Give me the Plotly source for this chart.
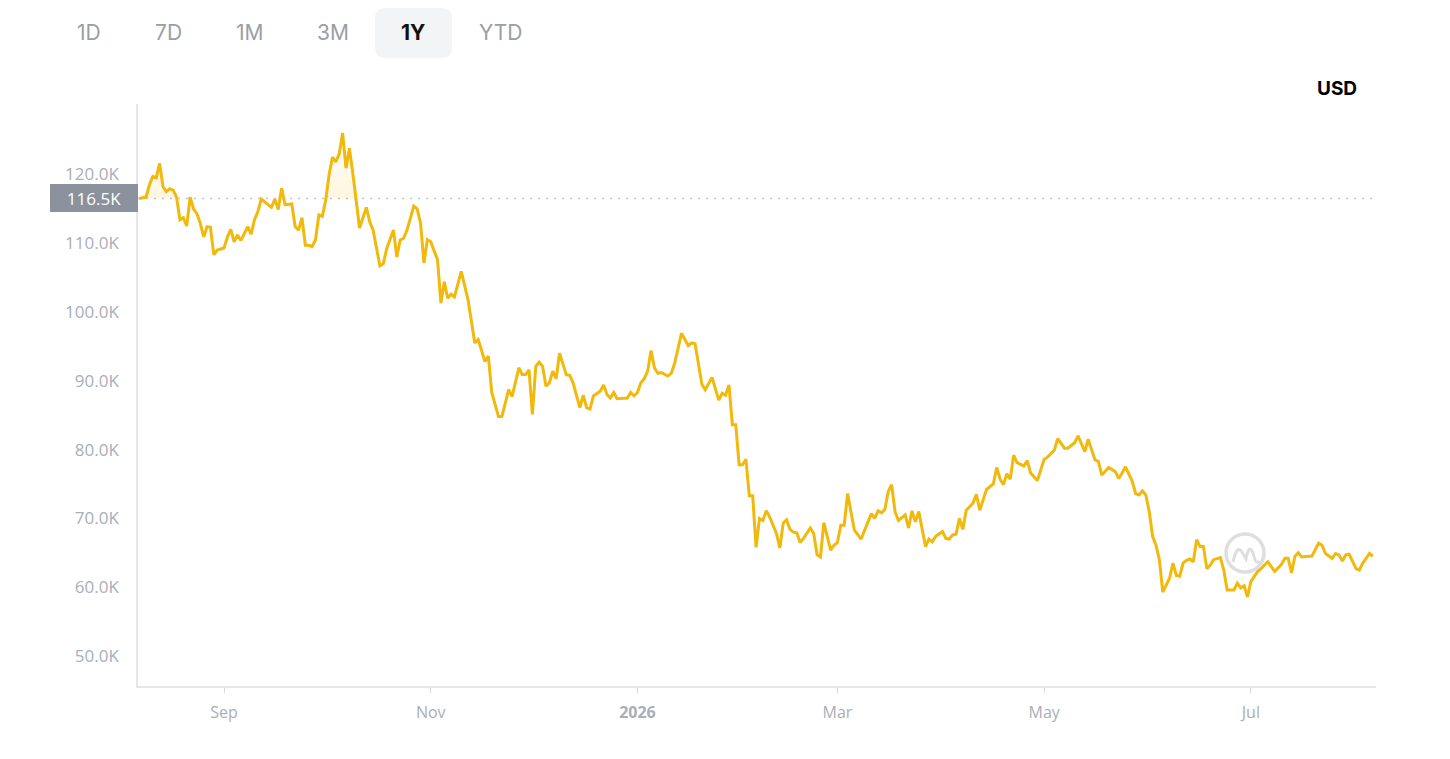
import plotly.graph_objects as go

# ---------------- data ----------------
dates = [
    "2025-08-07", "2025-08-09", "2025-08-10", "2025-08-11", "2025-08-12", "2025-08-13", "2025-08-14", "2025-08-15",
    "2025-08-16", "2025-08-17", "2025-08-18", "2025-08-19", "2025-08-20", "2025-08-21", "2025-08-22", "2025-08-23",
    "2025-08-24", "2025-08-25", "2025-08-26", "2025-08-27", "2025-08-28", "2025-08-29", "2025-08-30", "2025-09-01",
    "2025-09-02", "2025-09-03", "2025-09-04", "2025-09-05", "2025-09-06", "2025-09-08", "2025-09-09", "2025-09-10",
    "2025-09-11", "2025-09-12", "2025-09-14", "2025-09-15", "2025-09-16", "2025-09-17", "2025-09-18", "2025-09-19",
    "2025-09-21", "2025-09-22", "2025-09-23", "2025-09-24", "2025-09-25", "2025-09-26", "2025-09-27", "2025-09-28",
    "2025-09-29", "2025-09-30", "2025-10-01", "2025-10-02", "2025-10-03", "2025-10-04", "2025-10-05", "2025-10-06",
    "2025-10-07", "2025-10-08", "2025-10-09", "2025-10-11", "2025-10-13", "2025-10-14", "2025-10-15", "2025-10-17",
    "2025-10-18", "2025-10-19", "2025-10-21", "2025-10-22", "2025-10-23", "2025-10-24", "2025-10-25", "2025-10-27",
    "2025-10-28", "2025-10-29", "2025-10-30", "2025-10-31", "2025-11-01", "2025-11-03", "2025-11-04", "2025-11-05",
    "2025-11-06", "2025-11-07", "2025-11-08", "2025-11-10", "2025-11-12", "2025-11-14", "2025-11-15", "2025-11-17",
    "2025-11-18", "2025-11-19", "2025-11-21", "2025-11-22", "2025-11-24", "2025-11-25", "2025-11-27", "2025-11-28",
    "2025-11-29", "2025-11-30", "2025-12-01", "2025-12-02", "2025-12-03", "2025-12-04", "2025-12-05", "2025-12-06",
    "2025-12-07", "2025-12-08", "2025-12-09", "2025-12-11", "2025-12-12", "2025-12-13", "2025-12-15", "2025-12-16",
    "2025-12-17", "2025-12-18", "2025-12-19", "2025-12-21", "2025-12-22", "2025-12-23", "2025-12-24", "2025-12-25",
    "2025-12-26", "2025-12-29", "2025-12-30", "2025-12-31", "2026-01-01", "2026-01-02", "2026-01-03", "2026-01-04",
    "2026-01-05", "2026-01-06", "2026-01-07", "2026-01-08", "2026-01-10", "2026-01-11", "2026-01-12", "2026-01-14",
    "2026-01-16", "2026-01-17", "2026-01-18", "2026-01-20", "2026-01-21", "2026-01-23", "2026-01-25", "2026-01-26",
    "2026-01-27", "2026-01-28", "2026-01-29", "2026-01-30", "2026-01-31", "2026-02-01", "2026-02-02", "2026-02-03",
    "2026-02-04", "2026-02-05", "2026-02-06", "2026-02-07", "2026-02-08", "2026-02-09", "2026-02-11", "2026-02-12",
    "2026-02-13", "2026-02-14", "2026-02-15", "2026-02-16", "2026-02-17", "2026-02-18", "2026-02-19", "2026-02-21",
    "2026-02-22", "2026-02-23", "2026-02-24", "2026-02-25", "2026-02-26", "2026-02-27", "2026-02-28", "2026-03-01",
    "2026-03-02", "2026-03-03", "2026-03-04", "2026-03-05", "2026-03-06", "2026-03-08", "2026-03-10", "2026-03-11",
    "2026-03-12", "2026-03-13", "2026-03-14", "2026-03-15", "2026-03-16", "2026-03-17", "2026-03-18", "2026-03-19",
    "2026-03-21", "2026-03-22", "2026-03-23", "2026-03-24", "2026-03-25", "2026-03-26", "2026-03-27", "2026-03-28",
    "2026-03-29", "2026-03-30", "2026-04-01", "2026-04-02", "2026-04-03", "2026-04-04", "2026-04-05", "2026-04-06",
    "2026-04-07", "2026-04-08", "2026-04-10", "2026-04-11", "2026-04-12", "2026-04-14", "2026-04-16", "2026-04-17",
    "2026-04-18", "2026-04-19", "2026-04-20", "2026-04-21", "2026-04-22", "2026-04-23", "2026-04-25", "2026-04-26",
    "2026-04-27", "2026-04-29", "2026-05-01", "2026-05-02", "2026-05-04", "2026-05-05", "2026-05-07", "2026-05-08",
    "2026-05-10", "2026-05-11", "2026-05-13", "2026-05-14", "2026-05-16", "2026-05-17", "2026-05-18", "2026-05-19",
    "2026-05-20", "2026-05-22", "2026-05-23", "2026-05-24", "2026-05-25", "2026-05-27", "2026-05-28", "2026-05-29",
    "2026-05-30", "2026-05-31", "2026-06-01", "2026-06-02", "2026-06-03", "2026-06-04", "2026-06-05", "2026-06-07",
    "2026-06-08", "2026-06-09", "2026-06-10", "2026-06-11", "2026-06-12", "2026-06-13", "2026-06-14", "2026-06-15",
    "2026-06-16", "2026-06-17", "2026-06-18", "2026-06-19", "2026-06-20", "2026-06-22", "2026-06-23", "2026-06-24",
    "2026-06-26", "2026-06-27", "2026-06-28", "2026-06-29", "2026-06-30", "2026-07-01", "2026-07-03", "2026-07-04",
    "2026-07-05", "2026-07-06", "2026-07-08", "2026-07-10", "2026-07-11", "2026-07-12", "2026-07-13", "2026-07-14",
    "2026-07-15", "2026-07-16", "2026-07-18", "2026-07-19", "2026-07-21", "2026-07-22", "2026-07-23", "2026-07-25",
    "2026-07-26", "2026-07-27", "2026-07-28", "2026-07-29", "2026-07-30", "2026-08-01", "2026-08-02", "2026-08-03",
    "2026-08-04", "2026-08-05", "2026-08-06",
]

prices_k = [
    116.5, 116.7, 118.5, 119.7, 119.5, 121.6, 118.2, 117.5,
    117.9, 117.7, 116.7, 113.4, 113.7, 112.5, 116.7, 115.0,
    114.3, 112.9, 110.9, 112.4, 112.3, 108.3, 109.0, 109.3,
    110.9, 112.0, 110.2, 111.2, 110.4, 112.4, 111.3, 113.4,
    114.6, 116.4, 115.6, 115.2, 116.4, 114.9, 118.0, 115.6,
    115.7, 112.4, 111.9, 113.7, 109.7, 109.7, 109.5, 110.5,
    114.1, 113.9, 116.2, 119.9, 122.5, 121.8, 123.0, 126.0,
    120.9, 123.8, 120.2, 112.2, 115.2, 113.1, 111.9, 106.7,
    107.0, 109.2, 111.9, 108.0, 110.5, 110.7, 111.9, 115.4,
    115.0, 112.9, 107.1, 110.5, 110.2, 107.6, 101.3, 104.4,
    102.0, 102.6, 102.2, 105.9, 101.8, 95.5, 96.0, 92.8,
    93.6, 88.3, 84.8, 84.8, 88.7, 87.7, 91.9, 90.9,
    90.9, 91.6, 85.1, 92.1, 92.7, 92.1, 89.2, 89.7,
    91.4, 90.3, 94.0, 90.9, 90.8, 89.7, 86.1, 87.9,
    86.1, 85.9, 87.8, 88.5, 89.4, 88.0, 87.5, 88.3,
    87.4, 87.5, 88.3, 87.8, 88.3, 89.7, 90.3, 91.4,
    94.4, 91.9, 91.1, 91.2, 90.7, 91.1, 92.6, 96.9,
    95.1, 95.5, 95.4, 89.5, 88.7, 90.5, 87.2, 88.2,
    87.9, 89.4, 83.6, 83.6, 77.8, 77.8, 78.6, 73.3,
    73.3, 65.8, 70.0, 69.7, 71.1, 70.2, 67.8, 65.7,
    69.3, 69.8, 68.4, 68.0, 67.9, 66.5, 67.1, 68.6,
    67.8, 64.7, 64.4, 69.4, 67.4, 65.4, 66.1, 66.5,
    69.0, 69.0, 73.6, 71.0, 68.3, 67.0, 69.5, 70.7,
    70.0, 71.1, 70.8, 71.3, 73.9, 74.9, 71.0, 69.7,
    70.5, 68.6, 71.1, 69.5, 71.0, 68.3, 65.9, 67.0,
    66.6, 67.4, 68.1, 67.1, 67.0, 67.6, 67.7, 70.0,
    68.4, 71.2, 72.2, 73.5, 71.2, 74.2, 75.0, 77.4,
    75.7, 74.9, 76.5, 75.7, 79.2, 78.1, 77.6, 78.4,
    76.6, 75.5, 78.6, 78.9, 79.9, 81.6, 80.2, 80.2,
    81.0, 82.0, 79.7, 81.5, 78.5, 78.3, 76.3, 76.8,
    77.4, 76.8, 75.8, 76.6, 77.5, 75.4, 73.6, 73.4,
    74.0, 73.4, 71.0, 67.4, 66.1, 64.0, 59.3, 61.3,
    63.5, 61.7, 61.6, 63.5, 63.9, 64.1, 63.7, 66.9,
    65.9, 65.9, 62.7, 63.2, 64.0, 64.3, 62.5, 59.6,
    59.6, 60.6, 59.9, 60.2, 58.6, 60.8, 62.3, 62.7,
    63.2, 63.7, 62.3, 63.3, 64.2, 64.2, 62.1, 64.5,
    65.0, 64.4, 64.5, 64.5, 66.4, 66.1, 64.9, 64.2,
    64.9, 64.7, 63.8, 64.7, 64.8, 62.7, 62.5, 63.5,
    64.2, 64.9, 64.5,
]

reference_k = 116.5
y_tick_vals = [50, 60, 70, 80, 90, 100, 110, 120]
y_tick_text = ["50.0K", "60.0K", "70.0K", "80.0K", "90.0K", "100.0K", "110.0K", "120.0K"]
x_tick_vals = ["2025-09-01", "2025-11-01", "2026-01-01", "2026-03-01", "2026-05-01", "2026-07-01"]
x_tick_text = ["Sep", "Nov", "<b>2026</b>", "Mar", "May", "Jul"]
range_buttons = ["1D", "7D", "1M", "3M", "1Y", "YTD"]
selected_button = "1Y"
currency = "USD"

# ---------------- layout geometry ----------------
# the page body has an 8px margin, so the figure starts at (8, 8) on screen
OFF = 8
W, H = 1434, 743
PLOT_L, PLOT_R, PLOT_T, PLOT_B = 138, 1376, 104, 686   # screen pixels
ML = PLOT_L - OFF
MT = PLOT_T - OFF
MR = W - (PLOT_R - OFF)
MB = H - (PLOT_B - OFF)
PW, PH = PLOT_R - PLOT_L, PLOT_B - PLOT_T


def px2x(px):
    return (px - PLOT_L) / PW


def px2y(py):
    return (PLOT_B - py) / PH


LINE_COLOR = "#F0B90B"
TICK_COLOR = "#a9aeb8"
FONT = "Open Sans"

fig = go.Figure()

# soft fill between the reference level and the line where the line is above it
upper = [max(p, reference_k) for p in prices_k]
fig.add_trace(go.Scatter(
    x=dates, y=[reference_k] * len(dates), mode="lines",
    line=dict(width=0, color="rgba(0,0,0,0)"), hoverinfo="skip", showlegend=False,
))
fig.add_trace(go.Scatter(
    x=dates, y=upper, mode="lines", fill="tonexty",
    line=dict(width=0, color="rgba(0,0,0,0)"),
    fillgradient=dict(
        type="vertical", start=reference_k, stop=max(prices_k),
        colorscale=[[0, "rgba(240,185,11,0.13)"], [1, "rgba(240,185,11,0.02)"]],
    ),
    hoverinfo="skip", showlegend=False,
))
fig.add_trace(go.Scatter(
    x=dates, y=prices_k, mode="lines",
    line=dict(color=LINE_COLOR, width=3, shape="linear"),
    showlegend=False, hoverinfo="skip",
))

shapes = []
# dotted reference line
shapes.append(dict(
    type="line", xref="paper", x0=0, x1=1, yref="y", y0=reference_k, y1=reference_k,
    line=dict(color="#c2c6cd", width=1.5, dash="2px,6px"), layer="below",
))

# selected range button background (rounded rectangle)
bx0, bx1, by0, by1, r = 375, 452, 8, 58, 10
path = (
    f"M {px2x(bx0 + r)},{px2y(by0)} L {px2x(bx1 - r)},{px2y(by0)} "
    f"Q {px2x(bx1)},{px2y(by0)} {px2x(bx1)},{px2y(by0 + r)} "
    f"L {px2x(bx1)},{px2y(by1 - r)} Q {px2x(bx1)},{px2y(by1)} {px2x(bx1 - r)},{px2y(by1)} "
    f"L {px2x(bx0 + r)},{px2y(by1)} Q {px2x(bx0)},{px2y(by1)} {px2x(bx0)},{px2y(by1 - r)} "
    f"L {px2x(bx0)},{px2y(by0 + r)} Q {px2x(bx0)},{px2y(by0)} {px2x(bx0 + r)},{px2y(by0)} Z"
)
shapes.append(dict(type="path", xref="paper", yref="paper", path=path,
                   fillcolor="#f3f4f6", line=dict(width=0), layer="below"))

# watermark logo (circle + stylised m)
cx, cy, cr = 1245, 553, 19
shapes.append(dict(type="circle", xref="paper", yref="paper",
                   x0=px2x(cx - cr), x1=px2x(cx + cr), y0=px2y(cy + cr), y1=px2y(cy - cr),
                   line=dict(color="#dedede", width=3.5), layer="above"))
m_path = (
    f"M {px2x(1233)},{px2y(562)} "
    f"Q {px2x(1237)},{px2y(544)} {px2x(1242)},{px2y(552)} "
    f"L {px2x(1246)},{px2y(559)} "
    f"Q {px2x(1249)},{px2y(543)} {px2x(1253)},{px2y(553)} "
    f"L {px2x(1255)},{px2y(560)} Q {px2x(1257)},{px2y(564)} {px2x(1260)},{px2y(561)}"
)
shapes.append(dict(type="path", xref="paper", yref="paper", path=m_path,
                   line=dict(color="#dedede", width=3), layer="above"))

annotations = []
# range buttons
btn_centers = [89, 168, 250, 333, 413, 500]
for label, cxp in zip(range_buttons, btn_centers):
    sel = label == selected_button
    annotations.append(dict(
        x=px2x(cxp), y=px2y(32), xref="paper", yref="paper", showarrow=False,
        text=f"<b>{label}</b>" if sel else label,
        font=dict(family="Inter", size=21, color="#111111" if sel else "#9a9ea5"),
        xanchor="center", yanchor="middle",
    ))

# currency label
annotations.append(dict(
    x=px2x(1337), y=px2y(88), xref="paper", yref="paper", showarrow=False,
    text=f"<b>{currency}</b>", font=dict(family="Inter", size=19, color="#000000"),
    xanchor="center", yanchor="middle",
))

# current-level label on the y axis
annotations.append(dict(
    x=0, y=reference_k, xref="paper", yref="y", showarrow=False,
    text=f"{reference_k:.1f}K", font=dict(family=FONT, size=17, color="#ffffff"),
    bgcolor="#8b919d", bordercolor="#8b919d", borderwidth=1, borderpad=2,
    width=82, height=22, xanchor="right", yanchor="middle", align="center",
))

fig.update_layout(
    width=W, height=H, autosize=False,
    margin=dict(l=ML, r=MR, t=MT, b=MB),
    paper_bgcolor="white", plot_bgcolor="white",
    showlegend=False, hovermode=False,
    shapes=shapes, annotations=annotations,
    font=dict(family=FONT),
)

fig.update_xaxes(
    type="date",
    range=["2025-08-06 15:00", "2026-08-06 22:00"],
    tickvals=x_tick_vals, ticktext=x_tick_text,
    showgrid=False, zeroline=False,
    showline=True, linecolor="#e5e7ea", linewidth=1.5,
    ticks="outside", ticklen=5, tickcolor="#d5d8dd", tickwidth=1,
    tickfont=dict(family=FONT, size=16, color=TICK_COLOR),
    ticklabelstandoff=6,
)
fig.update_yaxes(
    range=[45.64, 130.23],
    tickvals=y_tick_vals, ticktext=y_tick_text,
    showgrid=False, zeroline=False,
    showline=True, linecolor="#e5e7ea", linewidth=1.5,
    ticks="", tickfont=dict(family=FONT, size=17, color=TICK_COLOR),
    ticklabelstandoff=14,
)

fig.write_html("out.html", config={"displayModeBar": False})
